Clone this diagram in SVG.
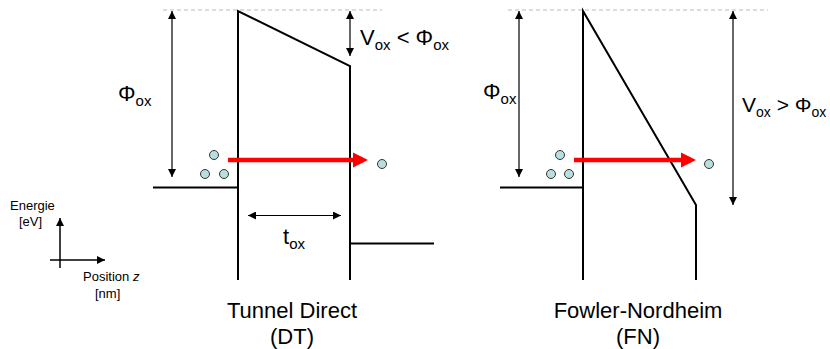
<svg xmlns="http://www.w3.org/2000/svg" width="830" height="349" viewBox="0 0 830 349">
<defs>
<marker id="ah" viewBox="0 0 10 10" refX="10" refY="5" markerWidth="8" markerHeight="8" markerUnits="userSpaceOnUse" orient="auto-start-reverse">
<path d="M0,0 L10,5 L0,10 z" fill="#000"/>
</marker>
</defs>
<style>
.band{fill:none;stroke:#000;stroke-width:2}
.dash{fill:none;stroke:#bbb;stroke-width:1;stroke-dasharray:4,3}
.dim{fill:none;stroke:#000;stroke-width:1.2;marker-start:url(#ah);marker-end:url(#ah)}
.ax{fill:none;stroke:#000;stroke-width:1.5;marker-end:url(#ah)}
.red{fill:none;stroke:#ff0000;stroke-width:4.5}
.e{fill:#b8dede;stroke:#333;stroke-width:1}
text{font-family:"Liberation Sans",Arial,sans-serif;fill:#000}
.big{font-size:22px}
.sub{font-size:15px}
.sm{font-size:13px}
.fit{font-size:21px}
.fitsub{font-size:14px}
</style>
<rect width="830" height="349" fill="#fff"/>
<g id="axes">
<line class="ax" x1="60" y1="268" x2="60" y2="218"/>
<line class="ax" x1="50" y1="260" x2="105" y2="260"/>
<text class="sm" x="10" y="210">Energie</text>
<text class="sm" x="19" y="226">[eV]</text>
<text class="sm" x="83" y="281">Position <tspan font-style="italic">z</tspan></text>
<text class="sm" x="95" y="298">[nm]</text>
</g>
<g id="dt-band">
<line class="dash" x1="163" y1="10" x2="382" y2="10"/>
<polyline class="band" points="153,187.5 238,187.5"/>
<polyline class="band" points="238,280 238,11 350,66 350,280"/>
<polyline class="band" points="350,243.5 434,243.5"/>
</g>
<g id="dt-labels">
<text class="big" x="118" y="101">Φ<tspan class="sub" dy="5">ox</tspan></text>
<text class="big" x="360" y="45">V<tspan class="sub" dy="5">ox</tspan><tspan dy="-5"> &lt; Φ</tspan><tspan class="sub" dy="5">ox</tspan></text>
<text class="big" x="283" y="244">t<tspan class="sub" dy="5">ox</tspan></text>
<text class="big" text-anchor="middle" x="292" y="318">Tunnel Direct</text>
<text class="big" text-anchor="middle" x="292" y="344">(DT)</text>
</g>
<g id="dt-electrons">
<circle class="e" cx="214" cy="155" r="4.5"/>
<circle class="e" cx="205" cy="174" r="4.5"/>
<circle class="e" cx="224" cy="174" r="4.5"/>
<circle class="e" cx="382" cy="164" r="4.5"/>
</g>
<g id="fn-band">
<line class="dash" x1="508" y1="10" x2="768" y2="10"/>
<polyline class="band" points="500,187.5 583,187.5"/>
<polyline class="band" points="583,280 583,11 696,205 696,280"/>
</g>
<g id="fn-labels">
<text class="big" x="483" y="99">Φ<tspan class="sub" dy="5">ox</tspan></text>
<text class="fit" x="742" y="112">V<tspan class="fitsub" dy="5">ox</tspan><tspan dy="-5"> &gt; Φ</tspan><tspan class="fitsub" dy="5">ox</tspan></text>
<text class="big" text-anchor="middle" x="638" y="318">Fowler-Nordheim</text>
<text class="big" text-anchor="middle" x="638" y="344">(FN)</text>
</g>
<g id="fn-electrons">
<circle class="e" cx="560" cy="155" r="4.5"/>
<circle class="e" cx="551" cy="174" r="4.5"/>
<circle class="e" cx="569" cy="174" r="4.5"/>
<circle class="e" cx="709" cy="164" r="4.5"/>
</g>
<g id="connectors">
<line class="dim" x1="172" y1="11" x2="172" y2="177"/>
<line class="dim" x1="350" y1="11" x2="350" y2="56"/>
<line class="dim" x1="248" y1="215.5" x2="341" y2="215.5"/>
<line class="dim" x1="519" y1="11" x2="519" y2="177"/>
<line class="dim" x1="733" y1="11" x2="733" y2="205"/>
<line class="red" x1="228" y1="160" x2="355" y2="160"/>
<polygon points="353,152.5 368,160 353,167.5" fill="#ff0000"/>
<line class="red" x1="574" y1="160" x2="683" y2="160"/>
<polygon points="681,152.5 696,160 681,167.5" fill="#ff0000"/>
</g>
</svg>
